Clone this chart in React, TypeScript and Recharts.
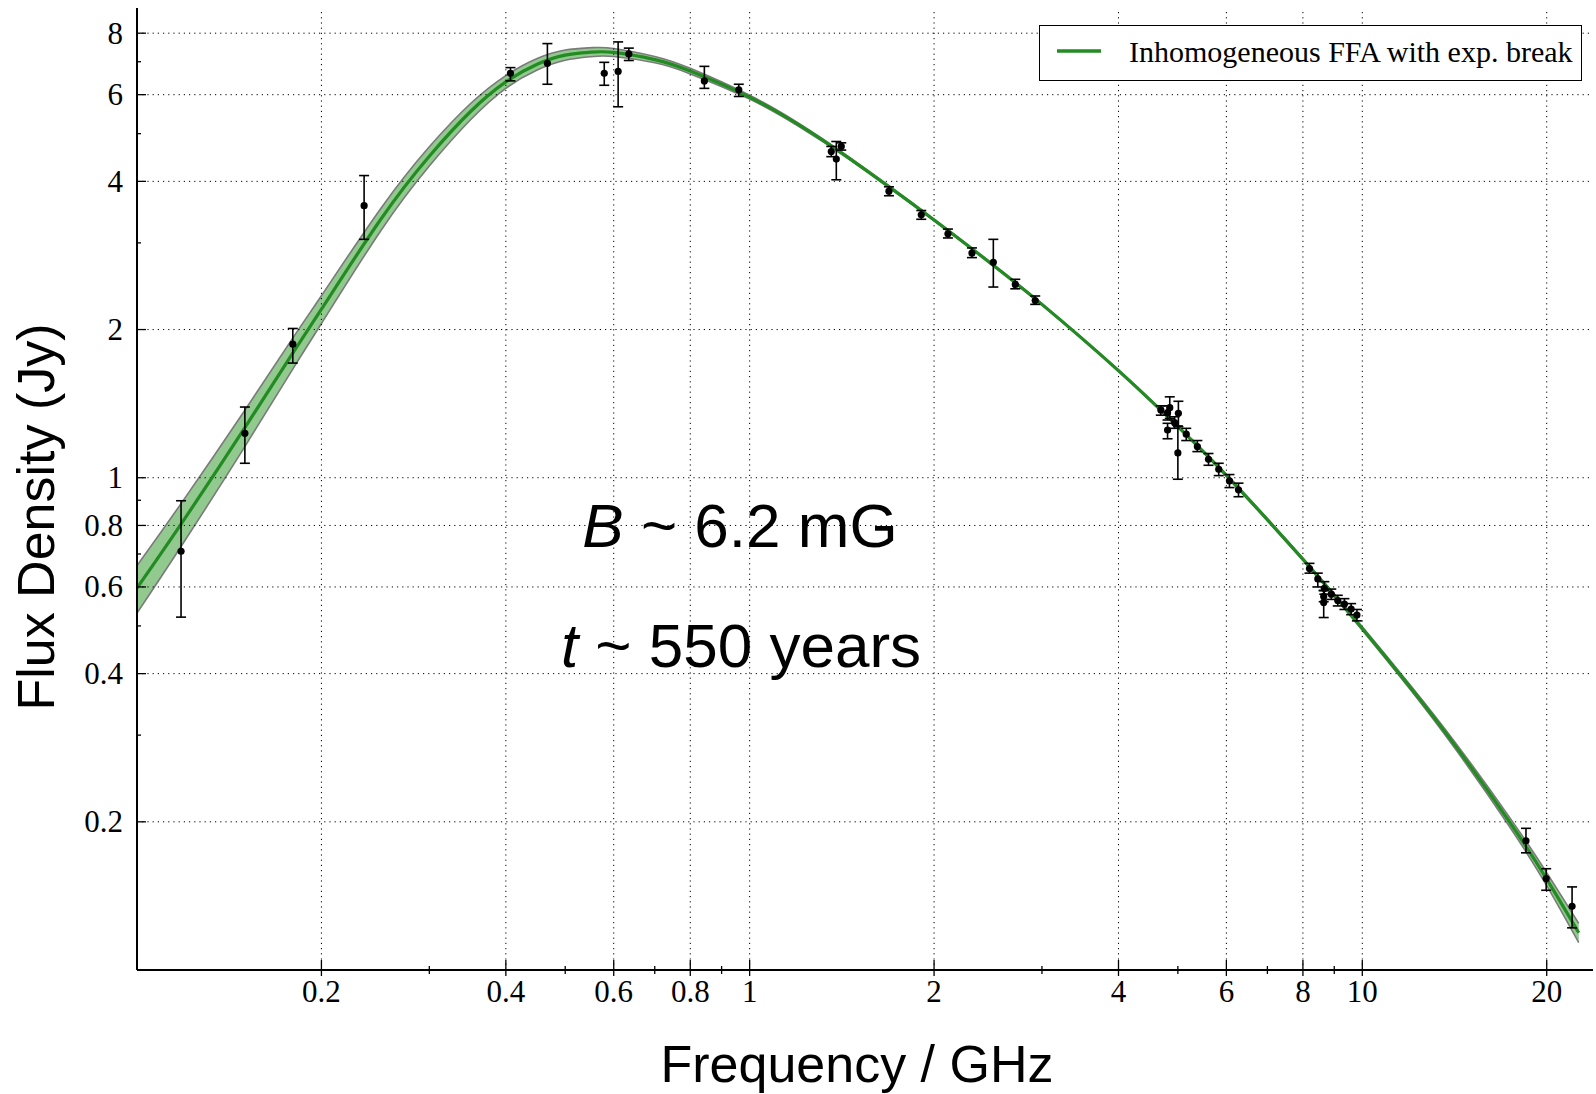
import React from 'react';
import {
  ComposedChart,
  Line,
  Area,
  Scatter,
  XAxis,
  YAxis,
  ErrorBar,
  ReferenceLine,
  Legend,
  Customized,
} from 'recharts';

// ---- model curve ----
const curveFreq = [0.1, 0.118, 0.15, 0.18, 0.2, 0.25, 0.3, 0.35, 0.4, 0.45, 0.5, 0.55, 0.6, 0.7, 0.8, 1.0, 1.2, 1.456, 2.0, 2.5, 3.0, 4.0, 5.0, 6.0, 8.0, 10, 12, 14.2, 17.34, 20, 22.56];
const curveFlux = [0.597, 0.805, 1.264, 1.8, 2.2, 3.35, 4.5, 5.54, 6.37, 6.92, 7.22, 7.32, 7.31, 7.07, 6.7, 5.93, 5.22, 4.45, 3.34, 2.7, 2.25, 1.65, 1.27, 1.011, 0.683, 0.494, 0.374, 0.285, 0.201, 0.153, 0.119];
const bandLow = [0.531, 0.725, 1.157, 1.67, 2.057, 3.176, 4.298, 5.329, 6.179, 6.733, 7.047, 7.166, 7.171, 6.964, 6.613, 5.877, 5.183, 4.428, 3.327, 2.689, 2.241, 1.643, 1.265, 1.006, 0.679, 0.49, 0.37, 0.2807, 0.1966, 0.1484, 0.1136];
const bandHigh = [0.663, 0.886, 1.371, 1.93, 2.343, 3.524, 4.703, 5.751, 6.561, 7.107, 7.393, 7.474, 7.449, 7.176, 6.787, 5.983, 5.257, 4.472, 3.353, 2.711, 2.259, 1.657, 1.275, 1.016, 0.687, 0.498, 0.378, 0.2893, 0.2054, 0.1576, 0.1244];

// ---- measured points ----
const pointFreq = [0.118, 0.15, 0.1796, 0.2348, 0.407, 0.4676, 0.579, 0.61, 0.635, 0.8435, 0.96, 1.359, 1.385, 1.411, 1.688, 1.906, 2.107, 2.306, 2.499, 2.714, 2.925, 4.69, 4.81, 4.85, 4.81, 4.94, 5.01, 5.0, 5.16, 5.38, 5.61, 5.83, 6.07, 6.28, 8.2, 8.46, 8.65, 8.65, 8.67, 8.9, 9.12, 9.35, 9.59, 9.8, 18.5, 19.96, 22.0];
const pointFlux = [0.709, 1.231, 1.868, 3.57, 6.63, 6.95, 6.63, 6.69, 7.26, 6.4, 6.14, 4.6, 4.44, 4.71, 3.82, 3.42, 3.13, 2.86, 2.74, 2.47, 2.29, 1.373, 1.356, 1.388, 1.25, 1.294, 1.352, 1.123, 1.226, 1.157, 1.09, 1.04, 0.985, 0.945, 0.654, 0.623, 0.574, 0.558, 0.596, 0.58, 0.563, 0.554, 0.541, 0.526, 0.183, 0.1534, 0.1347];
const pointLow = [0.521, 1.07, 1.71, 3.05, 6.4, 6.3, 6.27, 5.67, 7.04, 6.18, 5.95, 4.49, 4.03, 4.63, 3.74, 3.35, 3.07, 2.8, 2.44, 2.42, 2.25, 1.34, 1.31, 1.32, 1.2, 1.26, 1.27, 0.993, 1.19, 1.13, 1.06, 1.01, 0.955, 0.915, 0.64, 0.6, 0.56, 0.52, 0.58, 0.566, 0.549, 0.54, 0.527, 0.512, 0.173, 0.1452, 0.1218];
const pointHigh = [0.898, 1.392, 2.01, 4.11, 6.81, 7.62, 6.98, 7.68, 7.46, 6.85, 6.3, 4.71, 4.82, 4.79, 3.9, 3.49, 3.2, 2.93, 3.05, 2.53, 2.34, 1.4, 1.4, 1.46, 1.29, 1.33, 1.43, 1.274, 1.26, 1.19, 1.12, 1.07, 1.015, 0.975, 0.67, 0.64, 0.59, 0.59, 0.615, 0.594, 0.577, 0.568, 0.555, 0.54, 0.194, 0.1606, 0.1475];

// ---- ticks ----
const xMajorTicks = [0.2, 0.4, 0.6, 0.8, 1, 2, 4, 6, 8, 10, 20];
const xMinorTicks = [0.3, 0.5, 0.7, 0.9, 3, 5, 7, 9];
const yMajorTicks = [0.2, 0.4, 0.6, 0.8, 1, 2, 4, 6, 8];
const yMinorTicks = [0.3, 0.5, 0.7, 0.9, 3, 5, 7];

const xDomain = [0.1, 23.8];
const yDomain = [0.1, 9];

const legendLabel = 'Inhomogeneous FFA with exp. break';
const xTitle = 'Frequency / GHz';
const yTitle = 'Flux Density (Jy)';

const curveData = curveFreq.map((f, i) => ({ f, y: curveFlux[i], band: [bandLow[i], bandHigh[i]] }));
const pointData = pointFreq.map((f, i) => ({
  f,
  y: pointFlux[i],
  err: [pointFlux[i] - pointLow[i], pointHigh[i] - pointFlux[i]],
}));

const xTicksAll = [...xMajorTicks, ...xMinorTicks].sort((a, b) => a - b);
const yTicksAll = [...yMajorTicks, ...yMinorTicks].sort((a, b) => a - b);

const SERIF = '"Liberation Serif", "DejaVu Serif", serif';
const SANS = '"Liberation Sans", Arial, Helvetica, sans-serif';
const GREEN = '#228B22';

const W = 1596;
const H = 1094;

const fmt = (v: number) => String(v);

function BottomTick(props: any) {
  const { x, y, payload } = props;
  const major = xMajorTicks.includes(payload.value);
  return (
    <g>
      <line x1={x} x2={x} y1={y - (major ? 10 : 4)} y2={y + (major ? 6 : 4)} stroke="#000" strokeWidth={1.3} />
      {major && (
        <text x={x} y={y + 32} textAnchor="middle" fontFamily={SERIF} fontSize={31} fill="#000">
          {fmt(payload.value)}
        </text>
      )}
    </g>
  );
}

function TopTick(props: any) {
  const { x, y, payload } = props;
  const major = xMajorTicks.includes(payload.value);
  return <line x1={x} x2={x} y1={y} y2={y + (major ? 8 : 4)} stroke="#000" strokeWidth={1.3} />;
}

function LeftTick(props: any) {
  const { x, y, payload } = props;
  const major = yMajorTicks.includes(payload.value);
  return (
    <g>
      <line x1={x} x2={x + (major ? 9 : 4)} y1={y} y2={y} stroke="#000" strokeWidth={1.3} />
      {major && (
        <text x={x - 14} y={y + 10.5} textAnchor="end" fontFamily={SERIF} fontSize={31} fill="#000">
          {fmt(payload.value)}
        </text>
      )}
    </g>
  );
}

function RightTick(props: any) {
  const { x, y, payload } = props;
  const major = yMajorTicks.includes(payload.value);
  return <line x1={x} x2={x - (major ? 8 : 4)} y1={y} y2={y} stroke="#000" strokeWidth={1.3} />;
}

function Dot(props: any) {
  const { cx, cy } = props;
  if (cx == null || cy == null) return null;
  return <circle cx={cx} cy={cy} r={3.6} fill="#000" />;
}

function Texts() {
  return (
    <g>
      <text x={740} y={547} textAnchor="middle" fontFamily={SANS} fontSize={62} fill="#000">
        <tspan fontStyle="italic">B</tspan>
        <tspan> ~ 6.2 mG</tspan>
      </text>
      <text x={741} y={667} textAnchor="middle" fontFamily={SANS} fontSize={62} fill="#000">
        <tspan fontStyle="italic">t</tspan>
        <tspan> ~ 550 years</tspan>
      </text>
      <text x={857} y={1082} textAnchor="middle" fontFamily={SANS} fontSize={52} fill="#000">
        {xTitle}
      </text>
      <text
        x={54}
        y={517}
        textAnchor="middle"
        fontFamily={SANS}
        fontSize={52}
        fill="#000"
        transform="rotate(-90 54 517)"
      >
        {yTitle}
      </text>
    </g>
  );
}

function LegendBox() {
  return (
    <div
      style={{
        boxSizing: 'border-box',
        width: 543,
        height: 56,
        border: '1.6px solid #000',
        background: '#fff',
        position: 'relative',
        fontFamily: SERIF,
        fontSize: 30,
        color: '#000',
      }}
    >
      <svg width={44} height={8} style={{ position: 'absolute', left: 17, top: 21 }}>
        <line x1={0} x2={44} y1={4} y2={4} stroke={GREEN} strokeWidth={3.5} />
      </svg>
      <span style={{ position: 'absolute', left: 89, top: 8, whiteSpace: 'nowrap', lineHeight: '36px' }}>
        {legendLabel}
      </span>
    </div>
  );
}

export default function App() {
  return (
    <div style={{ position: 'absolute', left: 0, top: 0, width: W, height: H, background: '#fff' }}>
      <ComposedChart width={W} height={H} margin={{ top: 8, right: 3, bottom: 0, left: 0 }}>
        <XAxis
          type="number"
          dataKey="f"
          scale="log"
          domain={xDomain}
          allowDataOverflow
          ticks={xTicksAll}
          interval={0}
          tick={<BottomTick />}
          tickLine={false}
          tickSize={0}
          tickMargin={0}
          axisLine={{ stroke: '#000', strokeWidth: 2 }}
          height={124}
        />
        <XAxis
          xAxisId="top"
          orientation="top"
          type="number"
          dataKey="f"
          scale="log"
          domain={xDomain}
          allowDataOverflow
          ticks={xTicksAll}
          interval={0}
          tick={<TopTick />}
          tickLine={false}
          tickSize={0}
          tickMargin={0}
          axisLine={{ stroke: '#000', strokeWidth: 2 }}
          height={0}
        />
        <YAxis
          type="number"
          scale="log"
          domain={yDomain}
          allowDataOverflow
          ticks={yTicksAll}
          interval={0}
          tick={<LeftTick />}
          tickLine={false}
          tickSize={0}
          tickMargin={0}
          axisLine={{ stroke: '#000', strokeWidth: 2 }}
          width={137}
        />
        <YAxis
          yAxisId="right"
          orientation="right"
          type="number"
          scale="log"
          domain={yDomain}
          allowDataOverflow
          ticks={yTicksAll}
          interval={0}
          tick={<RightTick />}
          tickLine={false}
          tickSize={0}
          tickMargin={0}
          axisLine={{ stroke: '#000', strokeWidth: 2 }}
          width={0}
        />
        {xMajorTicks.map((v) => (
          <ReferenceLine key={'gx' + v} x={v} stroke="#000" strokeWidth={1} strokeDasharray="1.2 4" />
        ))}
        {yMajorTicks.map((v) => (
          <ReferenceLine key={'gy' + v} y={v} stroke="#000" strokeWidth={1} strokeDasharray="1.2 4" />
        ))}
        <Area
          data={curveData}
          dataKey="band"
          type="natural"
          stroke="#7a7a7a"
          strokeWidth={1.6}
          fill="#92c98f"
          fillOpacity={1}
          isAnimationActive={false}
          legendType="none"
          dot={false}
          activeDot={false}
        />
        <Line
          data={curveData}
          dataKey="y"
          type="natural"
          stroke={GREEN}
          strokeWidth={3.2}
          dot={false}
          activeDot={false}
          isAnimationActive={false}
          name={legendLabel}
        />
        <Scatter data={pointData} dataKey="y" shape={<Dot />} fill="#000" isAnimationActive={false} legendType="none">
          <ErrorBar dataKey="err" direction="y" width={5} stroke="#000" strokeWidth={1.6} />
        </Scatter>
        <Customized component={<Texts />} />
        <Legend
          layout="horizontal"
          verticalAlign="middle"
          align="center"
          wrapperStyle={{ position: 'absolute', left: 1039, top: 25, width: 543, height: 56 }}
          content={() => <LegendBox />}
        />
      </ComposedChart>
    </div>
  );
}
